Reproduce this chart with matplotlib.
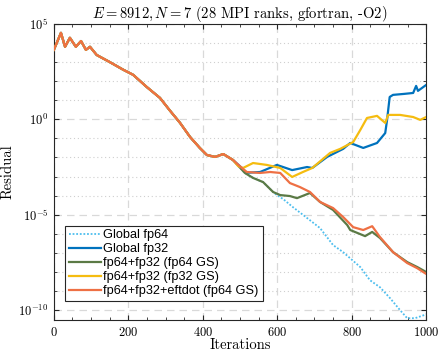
import numpy as np
import matplotlib
matplotlib.use("Agg")
import matplotlib.pyplot as plt
from matplotlib.ticker import FixedLocator, MultipleLocator, NullFormatter

plt.rcParams['font.family'] = 'serif'
plt.rcParams['font.serif'] = ['cmr10', 'DejaVu Serif']
plt.rcParams['mathtext.fontset'] = 'cm'
plt.rcParams['axes.formatter.use_mathtext'] = True

# iterations and log10(residual)
# shared start (all solvers identical until ~480 iterations)
it_common = [0, 19, 30, 43, 59, 73, 86, 97, 115, 150, 186, 213, 249, 285, 312, 339, 366, 392, 411, 433, 455, 481]
lg_common = [3.64, 4.53, 3.8, 4.27, 3.8, 4.1, 3.64, 3.8, 3.37, 3.0, 2.6, 2.33, 1.7, 1.12, 0.45, -0.19, -0.93, -1.5, -1.87, -1.97, -1.82, -2.13]

it_green = [513, 535, 562, 589, 608, 634, 653, 688, 715, 750, 788, 796, 836, 855, 876, 911, 949, 976, 1000]
lg_green = [-2.81, -3.07, -3.29, -3.81, -3.97, -4.02, -4.13, -3.86, -4.33, -4.75, -5.54, -5.8, -6.12, -5.9, -6.22, -6.96, -7.48, -7.74, -8.0]

it_cyan = [513, 535, 562, 589, 599, 616, 642, 680, 715, 750, 777, 823, 849, 876, 903, 930, 949, 970, 1000]
lg_cyan = [-2.81, -3.07, -3.29, -3.81, -3.97, -4.18, -4.6, -5.17, -5.7, -6.59, -6.96, -7.74, -8.43, -8.8, -9.37, -10.0, -10.42, -10.42, -10.22]

it_blue = [505, 518, 554, 599, 640, 680, 694, 734, 777, 796, 831, 868, 890, 895, 898, 902, 911, 940, 965, 973, 978, 1000]
lg_blue = [-2.55, -2.8, -2.76, -2.39, -2.66, -2.5, -2.55, -1.97, -1.55, -1.24, -1.5, -1.24, -0.72, -0.03, 0.49, 1.17, 1.28, 1.33, 1.38, 1.75, 1.49, 1.8]

it_yellow = [495, 508, 535, 572, 608, 640, 669, 694, 742, 769, 804, 823, 841, 868, 890, 898, 930, 965, 984, 1000]
lg_yellow = [-2.45, -2.55, -2.29, -2.39, -2.55, -3.02, -2.76, -2.55, -1.76, -1.55, -1.19, -0.56, 0.07, 0.18, -0.19, 0.23, 0.23, 0.12, -0.03, 0.12]

it_orange = [505, 518, 554, 581, 608, 634, 661, 688, 715, 750, 777, 804, 831, 855, 876, 911, 949, 976, 1000]
lg_orange = [-2.55, -2.76, -2.81, -2.76, -2.81, -3.34, -3.55, -3.81, -4.33, -4.65, -5.12, -5.65, -5.8, -5.6, -6.17, -6.96, -7.53, -7.8, -8.1]

labels = ['Global fp64', 'Global fp32', 'fp64+fp32 (fp64 GS)', 'fp64+fp32 (fp32 GS)', 'fp64+fp32+eftdot (fp64 GS)']
colors = ['#4DBEEE', '#0072BD', '#5B7A45', '#F5BC10', '#EE7044']


def series(it_tail, lg_tail):
    it = np.array(it_common + it_tail, dtype=float)
    lg = np.array(lg_common + lg_tail, dtype=float)
    return it, 10.0 ** lg


fig = plt.figure(figsize=(4.38, 3.51), dpi=100)
ax = fig.add_axes([0.123, 0.088, 0.850, 0.844])

data = [(it_cyan, lg_cyan), (it_blue, lg_blue), (it_green, lg_green),
        (it_yellow, lg_yellow), (it_orange, lg_orange)]
for i, (a, b) in enumerate(data):
    x, y = series(a, b)
    if i == 0:
        ax.semilogy(x, y, color=colors[i], lw=1.3, ls=(0, (1, 1)), label=labels[i], zorder=2)
    else:
        ax.semilogy(x, y, color=colors[i], lw=1.6, label=labels[i], zorder=2 + i)

ax.set_xlim(0, 1000)
ax.set_ylim(10 ** -10.52, 1e5)
ax.yaxis.set_major_locator(FixedLocator([1e-10, 1e-5, 1e0, 1e5]))
ax.yaxis.set_minor_locator(FixedLocator([10.0 ** k for k in range(-10, 6)]))
ax.yaxis.set_minor_formatter(NullFormatter())
ax.xaxis.set_major_locator(MultipleLocator(200))
ax.xaxis.set_minor_locator(MultipleLocator(50))

ax.grid(True, which='major', ls=(0, (6, 4)), color='#d9d9d9', lw=0.9)
ax.grid(True, which='minor', axis='y', ls=(0, (1, 2.5)), color='#cfcfcf', lw=0.8)
ax.set_axisbelow(True)

ax.tick_params(which='both', direction='in', top=True, right=True, labelsize=9, color='#262626')
ax.tick_params(which='major', length=3.5, pad=4)
ax.tick_params(which='minor', length=2)
for s in ax.spines.values():
    s.set_color('#262626')
    s.set_linewidth(0.8)

ax.set_xlabel('Iterations', fontsize=10.5, labelpad=0)
ax.set_ylabel('Residual', fontsize=10.5)
ax.yaxis.set_label_coords(-0.105, 0.5)
ax.set_title(r'$E = 8912, N = 7$ (28 MPI ranks, gfortran, -O2)', fontsize=10.5, pad=4)

leg = ax.legend(loc='lower left', bbox_to_anchor=(0.03, 0.065),
                prop={'family': 'Liberation Sans', 'size': 9.2},
                frameon=True, fancybox=False, edgecolor='#262626', framealpha=1,
                handlelength=2.5, handletextpad=0.2, labelspacing=0.15, borderpad=0.3,
                borderaxespad=0)
leg.get_frame().set_linewidth(0.8)

fig.savefig('out.png', dpi=100)
